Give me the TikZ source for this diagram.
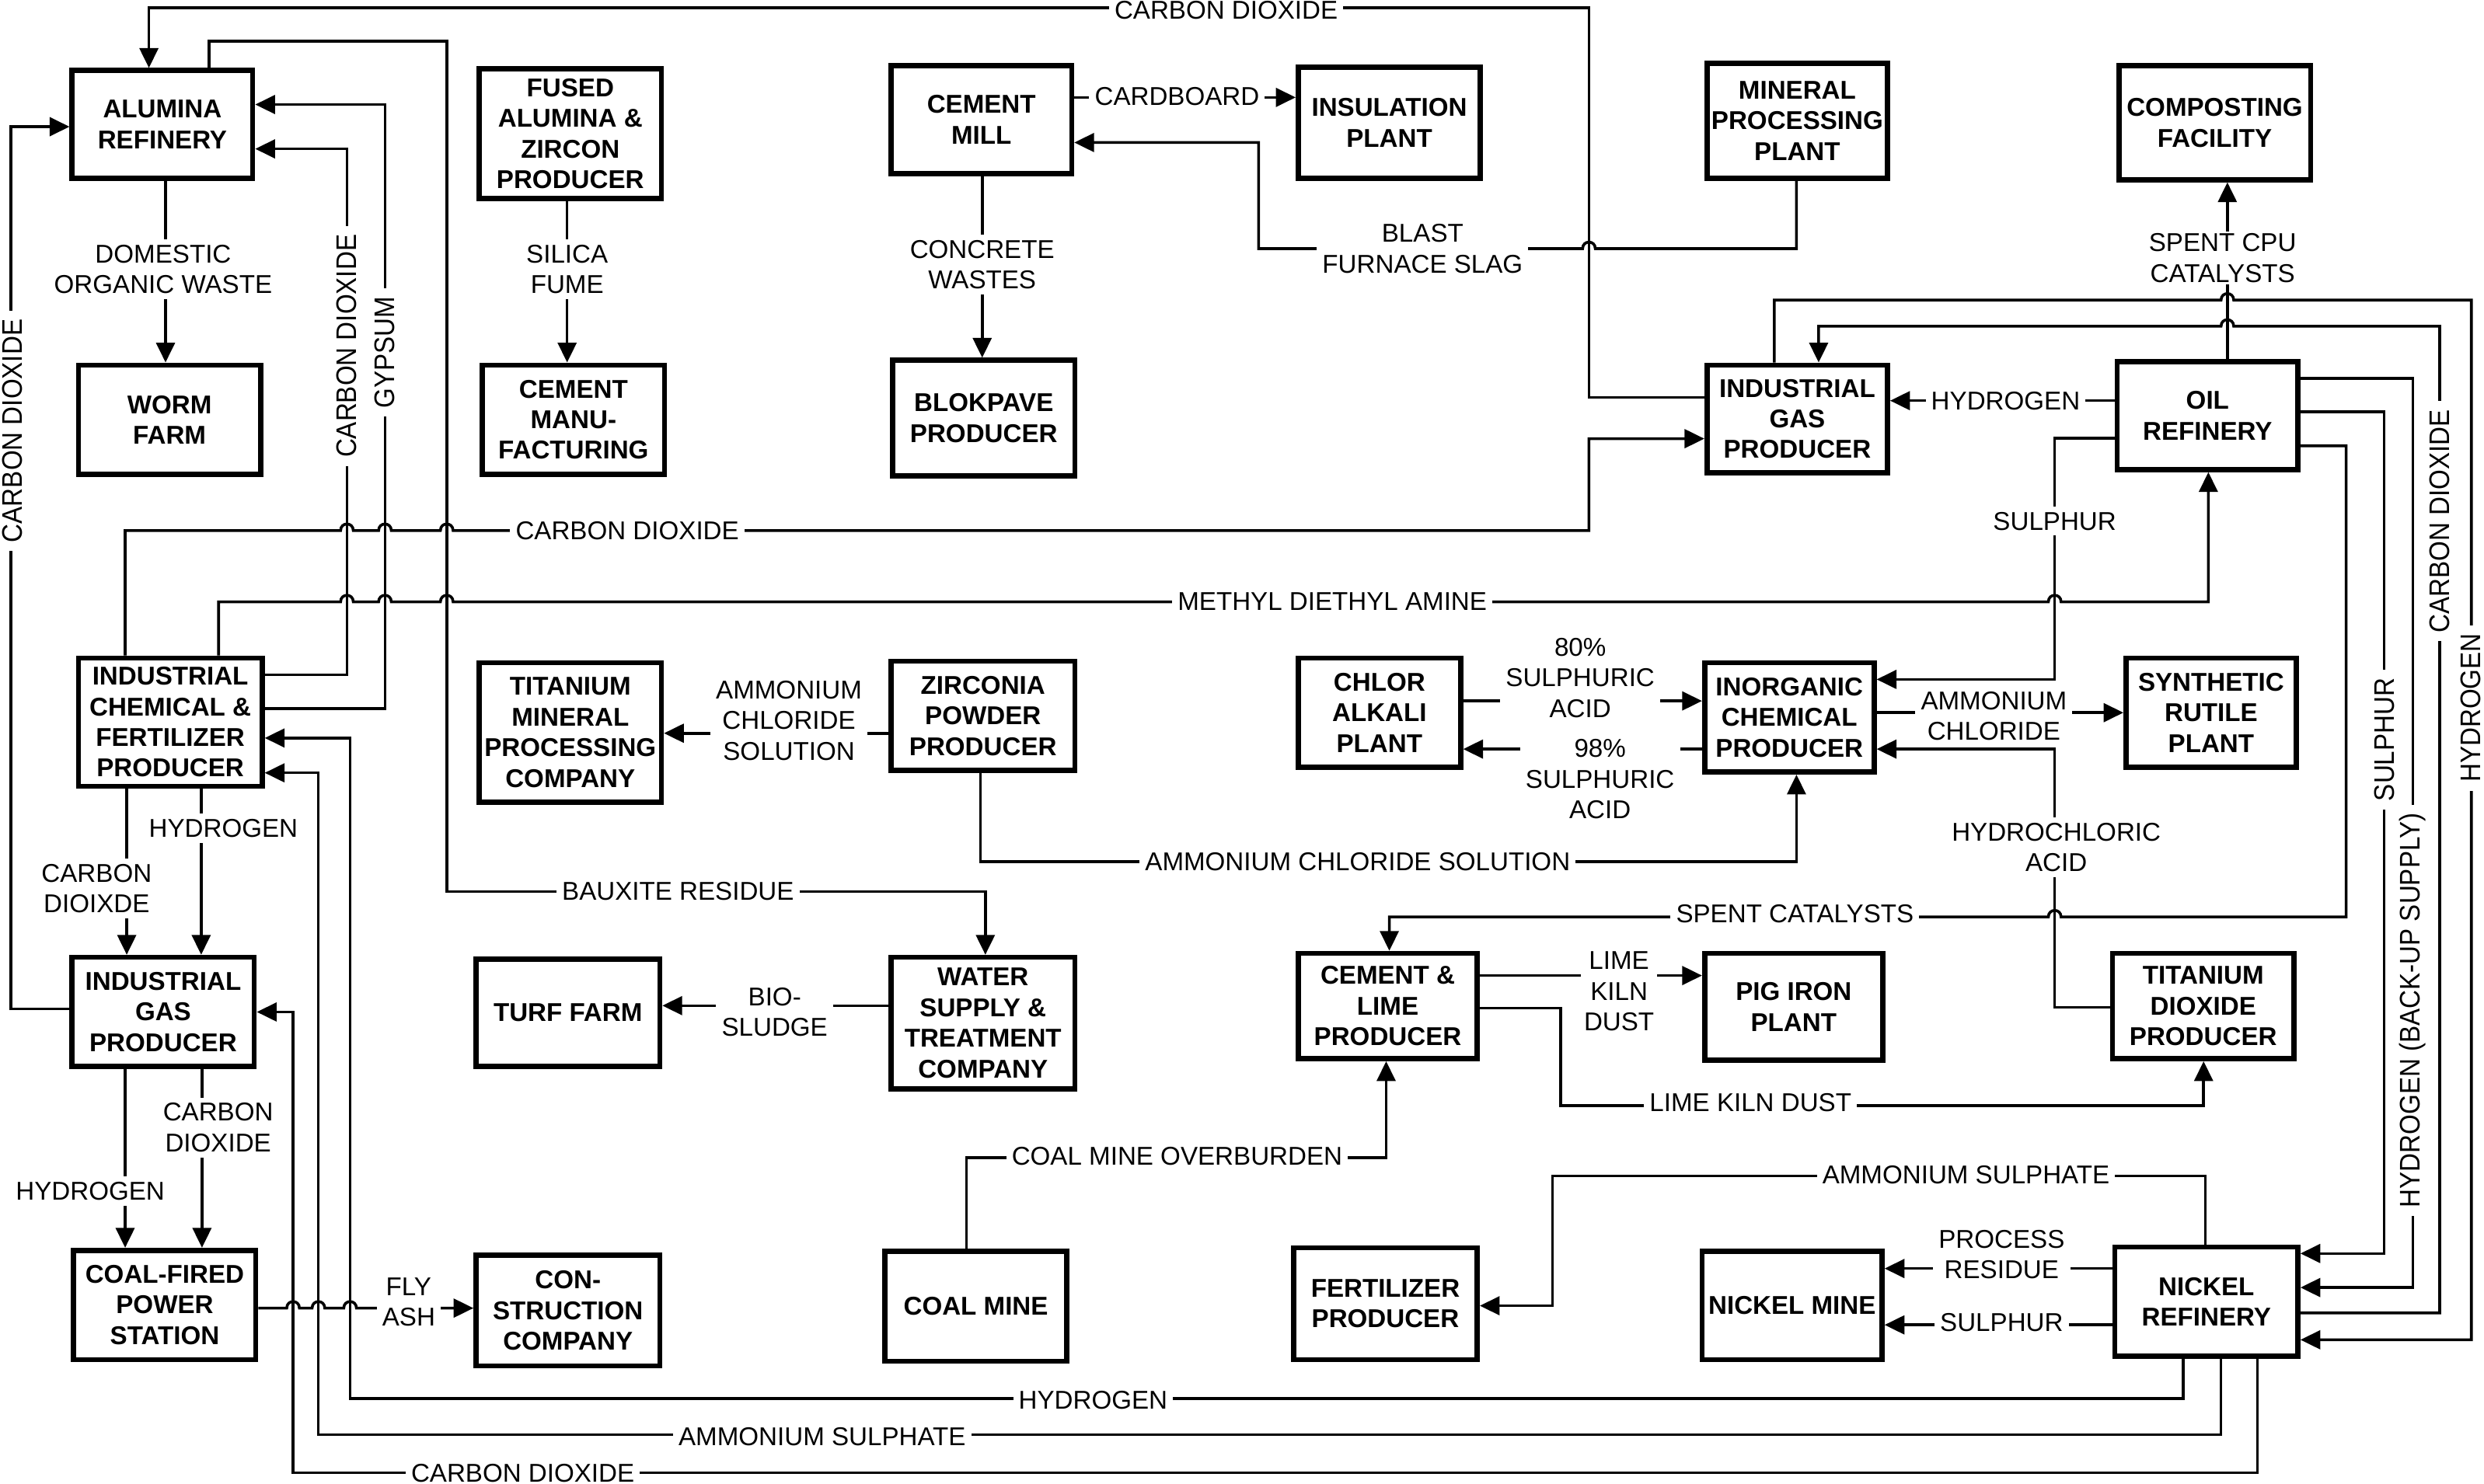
\documentclass[tikz,border=0pt]{standalone}
\usepackage{fontspec}
\setmainfont{Liberation Sans}
\usetikzlibrary{arrows.meta}
\newcommand{\mkbox}[6]{\node[box, minimum width={(#3-#2-3)*0.04cm}, minimum height={(#5-#4-3)*0.04cm}] (#1) at ({(#2+#3)/2},{(#4+#5)/2}) {#6};}
\newcommand{\rtxt}[1]{\scalebox{1}[1.1]{#1}}
\begin{document}
\begin{tikzpicture}[x=0.04cm,y=-0.04cm,
  box/.style={draw, line width=3.7pt, align=center, inner sep=1pt, font=\bfseries\fontsize{18.5}{22}\selectfont},
  lab/.style={fill=white, inner xsep=4pt, inner ysep=4pt, align=center, font=\fontsize{18.5}{22}\selectfont},
  rlab/.style={lab, rotate=90, inner xsep=6pt, inner ysep=0.5pt},
  con/.style={line width=2pt},
  arr/.style={con, -{Triangle[length=0.5cm,width=0.47cm]}},
  hop/.style 2 args={insert path={-- ({#1-4},#2) .. controls ({#1-4},{#2-5.5}) and ({#1+4},{#2-5.5}) .. ({#1+4},#2)}},
  hopl/.style 2 args={insert path={-- ({#1+4},#2) .. controls ({#1+4},{#2-5.5}) and ({#1-4},{#2-5.5}) .. ({#1-4},#2)}},
]
\fill[white] (0,0) rectangle (1568,937);
\useasboundingbox (0,0) rectangle (1568,937);

% boxes
\mkbox{alum}{44}{161}{43}{114}{ALUMINA\\REFINERY}
\mkbox{worm}{48}{166}{229}{301}{WORM\\FARM}
\mkbox{fused}{301}{419}{42}{127}{FUSED\\ALUMINA \&\\ZIRCON\\PRODUCER}
\mkbox{cemman}{303}{421}{229}{301}{CEMENT\\MANU-\\FACTURING}
\mkbox{cmill}{561}{678}{40}{111}{CEMENT\\MILL}
\mkbox{insul}{818}{936}{41}{114}{INSULATION\\PLANT}
\mkbox{mineral}{1076}{1193}{38.5}{114}{MINERAL\\PROCESSING\\PLANT}
\mkbox{compost}{1336}{1460}{40}{115}{COMPOSTING\\FACILITY}
\mkbox{blok}{562}{680}{226}{302}{BLOKPAVE\\PRODUCER}
\mkbox{igasR}{1076}{1193}{229}{300}{INDUSTRIAL\\GAS\\PRODUCER}
\mkbox{oil}{1335}{1452}{227}{298}{OIL\\REFINERY}
\mkbox{ichem}{48}{167}{414}{498}{INDUSTRIAL\\CHEMICAL \&\\FERTILIZER\\PRODUCER}
\mkbox{timin}{301}{419}{417}{508}{TITANIUM\\MINERAL\\PROCESSING\\COMPANY}
\mkbox{zirc}{561}{680}{416}{488}{ZIRCONIA\\POWDER\\PRODUCER}
\mkbox{chlor}{818}{923.5}{414}{486}{CHLOR\\ALKALI\\PLANT}
\mkbox{inorg}{1074.5}{1184.5}{417}{489}{INORGANIC\\CHEMICAL\\PRODUCER}
\mkbox{synrut}{1340.5}{1451}{414}{486}{SYNTHETIC\\RUTILE\\PLANT}
\mkbox{igasL}{44}{162}{603}{675}{INDUSTRIAL\\GAS\\PRODUCER}
\mkbox{turf}{299}{418}{604}{675}{TURF FARM}
\mkbox{water}{561}{680}{603}{689}{WATER\\SUPPLY \&\\TREATMENT\\COMPANY}
\mkbox{cemlime}{818}{934}{600.5}{670}{CEMENT \&\\LIME\\PRODUCER}
\mkbox{pig}{1074.5}{1190}{600.5}{671}{PIG IRON\\PLANT}
\mkbox{tio2}{1332}{1449.5}{600.5}{670}{TITANIUM\\DIOXIDE\\PRODUCER}
\mkbox{coal}{45}{163}{788}{860}{COAL-FIRED\\POWER\\STATION}
\mkbox{constr}{299}{418}{791}{864}{CON-\\STRUCTION\\COMPANY}
\mkbox{coalmine}{557}{675}{788.5}{861}{COAL MINE}
\mkbox{fert}{815}{934}{786.5}{860}{FERTILIZER\\PRODUCER}
\mkbox{nimine}{1073}{1189.5}{788.5}{860}{NICKEL MINE}
\mkbox{niref}{1333.5}{1452}{786}{858}{NICKEL\\REFINERY}

% connectors
\draw[arr] (igasR.west |- 0,251) -- (1003,251) -- (1003,5) -- (94,5) -- (alum.north -| 94,0);
\draw[arr] (ichem.north -| 79,0) -- (79,335) [hop={219}{335}] [hop={243}{335}] [hop={282}{335}] -- (1003,335) -- (1003,277) -- (igasR.west |- 0,277);
\draw[arr] (ichem.north -| 138,0) -- (138,380) [hop={219}{380}] [hop={243}{380}] [hop={282}{380}] [hop={1297}{380}] -- (1394,380) -- (oil.south -| 1394,0);
\draw[arr] (ichem.east |- 0,426) -- (219,426) -- (219,94) -- (alum.east |- 0,94);
\draw[arr] (ichem.east |- 0,447.5) -- (243,447.5) -- (243,66) -- (alum.east |- 0,66);
\draw[arr] (alum.north -| 132,0) -- (132,26) -- (282,26) -- (282,563) -- (622,563) -- (water.north -| 622,0);
\draw[arr] (igasL.west |- 0,637) -- (7,637) -- (7,80) -- (alum.west |- 0,80);
\draw[arr] (alum.south -| 104.5,0) -- (worm.north -| 104.5,0);
\draw[arr] (fused.south -| 358,0) -- (cemman.north -| 358,0);
\draw[arr] (cmill.south -| 620,0) -- (blok.north -| 620,0);
\draw[arr] (cmill.east |- 0,61.5) -- (insul.west |- 0,61.5);
\draw[arr] (mineral.south -| 1134,0) -- (1134,157) [hopl={1003}{157}] -- (794.5,157) -- (794.5,90) -- (cmill.east |- 0,90);
\draw[arr] (oil.west |- 0,253) -- (igasR.east |- 0,253);
\draw[arr] (oil.west |- 0,276.6) -- (1297,276.6) -- (1297,429) -- (inorg.east |- 0,429);
\draw[arr] (oil.north -| 1406,0) -- (compost.south -| 1406,0);
\draw[arr] (igasR.north -| 1120,0) -- (1120,189.5) [hop={1406}{189.5}] -- (1560,189.5) -- (1560,846) -- (niref.east |- 0,846);
\draw[arr] (niref.east |- 0,829) -- (1540,829) -- (1540,206) [hopl={1406}{206}] -- (1148,206) -- (igasR.north -| 1148,0);
\draw[arr] (oil.east |- 0,239) -- (1523,239) -- (1523,813) -- (niref.east |- 0,813);
\draw[arr] (oil.east |- 0,260) -- (1505,260) -- (1505,791.5) -- (niref.east |- 0,791.5);
\draw[arr] (oil.east |- 0,281.5) -- (1481,281.5) -- (1481,579) [hopl={1297}{579}] -- (877,579) -- (cemlime.north -| 877,0);
\draw[arr] (chlor.east |- 0,442.6) -- (inorg.west |- 0,442.6);
\draw[arr] (inorg.west |- 0,473) -- (chlor.east |- 0,473);
\draw[arr] (inorg.east |- 0,450) -- (synrut.west |- 0,450);
\draw[arr] (tio2.west |- 0,636) -- (1297,636) -- (1297,473) -- (inorg.east |- 0,473);
\draw[arr] (zirc.south -| 619,0) -- (619,544) -- (1134,544) -- (inorg.south -| 1134,0);
\draw[arr] (zirc.west |- 0,463) -- (timin.east |- 0,463);
\draw[arr] (water.west |- 0,635) -- (turf.east |- 0,635);
\draw[arr] (cemlime.east |- 0,616) -- (pig.west |- 0,616);
\draw[arr] (cemlime.east |- 0,636.5) -- (985,636.5) -- (985,698) -- (1391,698) -- (tio2.south -| 1391,0);
\draw[arr] (coalmine.north -| 610,0) -- (610,731) -- (875,731) -- (cemlime.south -| 875,0);
\draw[arr] (niref.north -| 1392,0) -- (1392,742.5) -- (980,742.5) -- (980,824.5) -- (fert.east |- 0,824.5);
\draw[arr] (niref.west |- 0,801) -- (nimine.east |- 0,801);
\draw[arr] (niref.west |- 0,836.6) -- (nimine.east |- 0,836.6);
\draw[arr] (niref.south -| 1378,0) -- (1378,883) -- (221,883) -- (221,466) -- (ichem.east |- 0,466);
\draw[arr] (niref.south -| 1402,0) -- (1402,906) -- (201,906) -- (201,488) -- (ichem.east |- 0,488);
\draw[arr] (niref.south -| 1425,0) -- (1425,930) -- (185,930) -- (185,639) -- (igasL.east |- 0,639);
\draw[arr] (ichem.south -| 80,0) -- (igasL.north -| 80,0);
\draw[arr] (ichem.south -| 127,0) -- (igasL.north -| 127,0);
\draw[arr] (igasL.south -| 79,0) -- (coal.north -| 79,0);
\draw[arr] (igasL.south -| 127.5,0) -- (coal.north -| 127.5,0);
\draw[arr] (coal.east |- 0,826) [hop={185}{826}] [hop={201}{826}] [hop={221}{826}] -- (constr.west |- 0,826);

% labels
\node[lab] (l1) at (774,6.5) {CARBON DIOXIDE};
\node[lab] (l2) at (396,335) {CARBON DIOXIDE};
\node[lab] (l3) at (841,380) {METHYL DIETHYL AMINE};
\node[rlab] (l4) at (219,218.5) {\rtxt{CARBON DIOXIDE}};
\node[rlab] (l5) at (243,222.5) {\rtxt{GYPSUM}};
\node[lab] (l6) at (428,563) {BAUXITE RESIDUE};
\node[rlab] (l7) at (8,272) {\rtxt{CARBON DIOXIDE}};
\node[lab] (l8) at (103,170) {DOMESTIC\\ORGANIC WASTE};
\node[lab] (l9) at (358,170) {SILICA\\FUME};
\node[lab] (l10) at (620,167) {CONCRETE\\WASTES};
\node[lab] (l11) at (743,61) {CARDBOARD};
\node[lab] (l12) at (898,157) {BLAST\\FURNACE SLAG};
\node[lab] (l13) at (1266,253) {HYDROGEN};
\node[lab] (l14) at (1297,329) {SULPHUR};
\node[lab, inner ysep=1.5pt] (l15) at (1403,163) {SPENT CPU\\CATALYSTS};
\node[rlab] (l16) at (1559.5,447) {\rtxt{HYDROGEN}};
\node[rlab] (l17) at (1540,329) {\rtxt{CARBON DIOXIDE}};
\node[rlab] (l18) at (1523,638) {\rtxt{HYDROGEN (BACK-UP SUPPLY)}};
\node[rlab] (l19) at (1505,467) {\rtxt{SULPHUR}};
\node[lab] (l20) at (1133,577) {SPENT CATALYSTS};
\node[lab, inner ysep=2pt] (l21) at (997.5,428) {80\%\\SULPHURIC\\ACID};
\node[lab, inner ysep=2pt] (l22) at (1010,492) {98\%\\SULPHURIC\\ACID};
\node[lab, inner ysep=1pt] (l23) at (1258.6,452) {AMMONIUM\\CHLORIDE};
\node[lab] (l24) at (1298,535) {HYDROCHLORIC\\ACID};
\node[lab] (l25) at (857,544) {AMMONIUM CHLORIDE SOLUTION};
\node[lab] (l26) at (498,455) {AMMONIUM\\CHLORIDE\\SOLUTION};
\node[lab] (l27) at (489,639) {BIO-\\SLUDGE};
\node[lab, inner xsep=2pt, inner ysep=2pt] (l28) at (1022,626) {LIME\\KILN\\DUST};
\node[lab] (l29) at (1105,696) {LIME KILN DUST};
\node[lab] (l30) at (743,730) {COAL MINE OVERBURDEN};
\node[lab] (l31) at (1241,742) {AMMONIUM SULPHATE};
\node[lab, inner ysep=2pt] (l32) at (1263.5,792) {PROCESS\\RESIDUE};
\node[lab, inner ysep=2pt] (l33) at (1263.5,835) {SULPHUR};
\node[lab, inner ysep=2pt] (l34) at (690,884) {HYDROGEN};
\node[lab, inner ysep=2pt] (l35) at (519,907) {AMMONIUM SULPHATE};
\node[lab, inner ysep=2pt] (l36) at (330,930) {CARBON DIOXIDE};
\node[lab] (l37) at (61,561) {CARBON\\DIOIXDE};
\node[lab] (l38) at (141,523) {HYDROGEN};
\node[lab] (l39) at (57,752) {HYDROGEN};
\node[lab] (l40) at (137.7,712) {CARBON\\DIOXIDE};
\node[lab] (l41) at (258,822) {FLY\\ASH};
\end{tikzpicture}
\end{document}
